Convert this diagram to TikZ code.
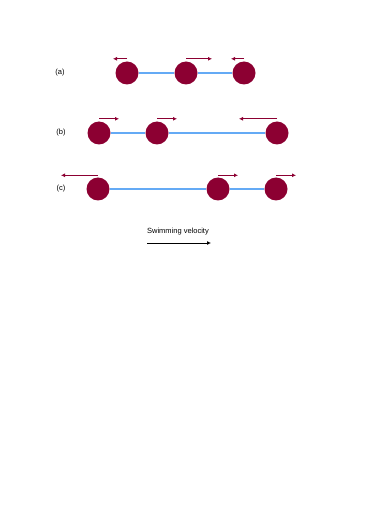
\documentclass[tikz,border=0pt]{standalone}
\usepackage{fontspec}
\setmainfont{Liberation Sans}
\usetikzlibrary{arrows.meta,positioning}
\definecolor{bead}{RGB}{140,0,50}
\definecolor{rodblue}{RGB}{100,170,245}
\tikzset{
  sphere/.style={circle, fill=bead, minimum size=23pt, inner sep=0pt},
  rod/.style={draw=rodblue, line width=2.2pt},
  vel/.style={-{Latex[length=4pt,width=4pt]}, draw=bead, line width=0.8pt},
  lbl/.style={font=\fontsize{7.5}{9}\selectfont, inner sep=1pt},
  swim/.style={-{Latex[length=4pt,width=4pt]}, line width=0.8pt}}

\begin{document}
\begin{tikzpicture}[x=1pt, y=-1pt]
  \useasboundingbox (0,0) rectangle (374,529);
  % (a)
  \node[lbl] (la) at (60,73) {(a)};
  \node[sphere] (a1) at (127,73) {};
  \node[sphere] (a2) at (186,73) {};
  \node[sphere] (a3) at (244,73) {};
  \draw[rod] (a1) -- (a2) -- (a3);
  \coordinate (a1t) at ([xshift=-14pt,yshift=2.5pt]a1.north);
  \coordinate (a2t) at ([xshift=26pt,yshift=2.5pt]a2.north);
  \coordinate (a3t) at ([xshift=-13pt,yshift=2.5pt]a3.north);
  \draw[vel] ([yshift=2.5pt]a1.north) -- (a1t);
  \draw[vel] ([yshift=2.5pt]a2.north) -- (a2t);
  \draw[vel] ([yshift=2.5pt]a3.north) -- (a3t);
  % (b)
  \node[lbl] (lb) at (61,133) {(b)};
  \node[sphere] (b1) at (99,133) {};
  \node[sphere] (b2) at (157,133) {};
  \node[sphere] (b3) at (277,133) {};
  \draw[rod] (b1) -- (b2) -- (b3);
  \coordinate (b1t) at ([xshift=20pt,yshift=2.5pt]b1.north);
  \coordinate (b2t) at ([xshift=20pt,yshift=2.5pt]b2.north);
  \coordinate (b3t) at ([xshift=-38pt,yshift=2.5pt]b3.north);
  \draw[vel] ([yshift=2.5pt]b1.north) -- (b1t);
  \draw[vel] ([yshift=2.5pt]b2.north) -- (b2t);
  \draw[vel] ([yshift=2.5pt]b3.north) -- (b3t);
  % (c)
  \node[lbl] (lc) at (61,189) {(c)};
  \node[sphere] (c1) at (98,189) {};
  \node[sphere] (c2) at (218,189) {};
  \node[sphere] (c3) at (276,189) {};
  \draw[rod] (c1) -- (c2) -- (c3);
  \coordinate (c1t) at ([xshift=-37pt,yshift=2pt]c1.north);
  \coordinate (c2t) at ([xshift=20pt,yshift=2pt]c2.north);
  \coordinate (c3t) at ([xshift=20pt,yshift=2pt]c3.north);
  \draw[vel] ([yshift=2pt]c1.north) -- (c1t);
  \draw[vel] ([yshift=2pt]c2.north) -- (c2t);
  \draw[vel] ([yshift=2pt]c3.north) -- (c3t);
  % swimming direction
  \node[lbl] (sv) at (178,232) {Swimming velocity};
  \coordinate (sv0) at (147,243);
  \coordinate (sv1) at (211,243);
  \draw[swim] (sv0) -- (sv1);
\end{tikzpicture}
\end{document}
